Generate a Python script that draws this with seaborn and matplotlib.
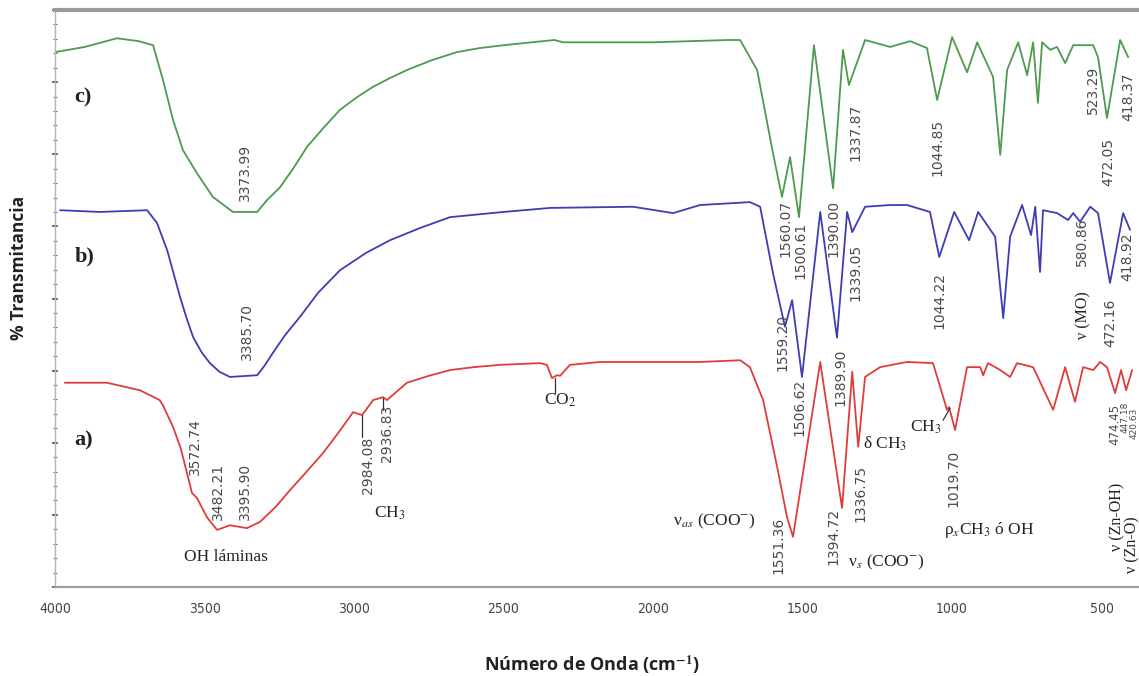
import numpy as np
import pandas as pd
import matplotlib
matplotlib.use("Agg")
import matplotlib.pyplot as plt
from matplotlib.ticker import MultipleLocator, NullFormatter
import seaborn as sns

# espectro c) (verde)
wn_c = [4000, 3900, 3793, 3720, 3672, 3639, 3605, 3572, 3525, 3472, 3405, 3324, 3290, 3247,
        3200, 3157, 3100, 3047, 2990, 2936, 2880, 2823, 2740, 2656, 2580, 2500, 2330, 2300,
        2000, 1750, 1709, 1652, 1599, 1569, 1542, 1512, 1462,
        1398, 1365, 1345, 1291, 1207, 1140, 1084, 1050, 1000, 950, 916, 863, 839, 816, 779,
        749, 729, 713, 699, 672, 649, 622, 595, 528, 512, 482, 438, 411]
t_c = [92.7, 93.6, 95.1, 94.6, 93.9, 87.9, 80.9, 75.7, 71.7, 67.6, 65.0, 65.0, 67.1, 69.3,
       72.8, 76.3, 79.7, 82.7, 84.9, 86.7, 88.2, 89.6, 91.3, 92.7, 93.4, 93.9, 94.8, 94.4,
       94.4, 94.8, 94.8, 89.6, 75.2, 67.6, 74.5, 64.1, 93.9,
       69.1, 93.1, 87.0, 94.8, 93.6, 94.6, 93.4, 84.4, 95.3, 89.2, 94.4, 88.4, 74.9, 89.6, 94.4,
       88.7, 94.4, 83.9, 94.4, 93.1, 93.6, 90.8, 93.9, 93.9, 91.8, 81.3, 94.8, 91.8]

# espectro b) (azul)
wn_b = [3983, 3850, 3692, 3659, 3625, 3600, 3582, 3560, 3538, 3510, 3482, 3450, 3415, 3324,
        3300, 3271, 3230, 3181, 3120, 3047, 2960, 2880, 2780, 2679, 2500,
        2344, 2067, 1933, 1843, 1676, 1642, 1599, 1559, 1535, 1502, 1441, 1385, 1351, 1334,
        1291, 1207, 1151, 1074, 1043, 993, 943, 913, 856, 829, 806, 766, 736, 722, 706, 696,
        649, 612, 595, 572, 538, 512, 472, 428, 405]
t_b = [65.3, 65.0, 65.3, 63.1, 58.4, 53.7, 50.3, 46.6, 43.3, 40.7, 38.8, 37.3, 36.4, 36.7,
       38.3, 40.6, 43.7, 46.8, 51.0, 54.9, 57.9, 60.1, 62.2, 64.1, 65.0,
       65.7, 65.9, 64.8, 66.2, 66.7, 65.9, 54.4, 45.1, 49.7, 36.4, 65.0, 43.2, 65.0, 61.5,
       65.9, 66.2, 66.2, 65.0, 57.2, 65.0, 60.1, 65.0, 60.7, 46.6, 60.7, 66.2, 61.0, 65.9, 54.6, 65.3,
       64.8, 63.6, 64.8, 63.3, 65.9, 64.8, 52.7, 64.8, 61.9]

# espectro a) (rojo)
wn_a = [3967, 3826, 3716, 3650, 3639, 3605, 3580, 3572, 3542, 3525, 3492, 3458, 3415, 3358,
        3314, 3260, 3214, 3160, 3104, 3050, 3003, 2973, 2936, 2903, 2890, 2823, 2750, 2679,
        2600, 2512, 2378, 2355, 2338, 2321, 2311,
        2278, 2177, 1843, 1709, 1676, 1632, 1585, 1552, 1532, 1441, 1368, 1334, 1314, 1291,
        1241, 1151, 1064, 1040, 1017, 1010, 990, 950, 906, 896, 880, 839, 806, 783, 729, 662,
        622, 589, 562, 528, 505, 482, 455, 435, 418, 398]
t_a = [35.4, 35.4, 34.1, 32.4, 31.5, 27.7, 24.1, 22.5, 16.3, 15.4, 12.1, 9.9, 10.7, 10.2,
       11.3, 14.0, 16.8, 19.9, 23.2, 26.9, 30.3, 29.8, 32.4, 32.9, 32.4, 35.4, 36.6, 37.6,
       38.1, 38.5, 38.8, 38.5, 36.2, 36.7, 36.6,
       38.5, 39.0, 39.0, 39.3, 38.1, 32.4, 20.8, 12.1, 8.7, 39.0, 13.7, 37.3, 24.3, 36.4,
       38.1, 39.0, 38.8, 34.7, 30.7, 31.2, 27.2, 38.1, 38.1, 36.7, 38.8, 37.6, 36.4, 38.8, 38.1, 30.7,
       38.1, 32.1, 38.1, 37.6, 39.0, 38.1, 33.6, 37.6, 34.1, 37.6]

# etiquetas numericas de picos (texto, x, y, tamano)
peak_txt = ["3373.99", "1560.07", "1500.61", "1390.00", "1337.87", "1044.85", "523.29", "472.05", "418.37",
            "3385.70", "1559.20", "1506.62", "1389.90", "1339.05", "1044.22", "580.86", "472.16", "418.92",
            "3572.74", "3482.21", "3395.90", "2984.08", "2936.83", "1551.36", "1394.72", "1336.75",
            "1019.70", "474.45", "447.18", "420.63"]
peak_x = [3365, 1559, 1508, 1398, 1324, 1050, 528, 478, 411,
          3358, 1569, 1512, 1375, 1324, 1043, 565, 472, 415,
          3532, 3455, 3365, 2953, 2890, 1582, 1398, 1308,
          997, 455, 420, 390]
peak_y = [71.9, 62.2, 58.4, 62.2, 78.7, 76.1, 86.1, 73.7, 84.9,
          44.2, 42.3, 31.2, 36.4, 54.6, 49.7, 59.8, 45.8, 57.2,
          24.3, 16.6, 16.6, 21.1, 26.7, 7.3, 8.7, 16.3,
          18.9, 28.1, 29.4, 28.4]
peak_fs = [10] * 27 + [8.5, 6.5, 6.5]

# asignaciones (texto serif)
band_txt = ["OH láminas", r"CH$_3$", r"CO$_2$", r"ν$_{as}$ (COO$^{-}$)", r"ν$_s$ (COO$^{-}$)",
            r"δ CH$_3$", r"CH$_3$", r"ρ$_x$CH$_3$ ó OH"]
band_x = [3428, 2880, 2311, 1796, 1221, 1224, 1087, 876]
band_y = [5.2, 12.8, 32.4, 11.3, 4.2, 24.8, 27.6, 9.9]

vert_txt = ["ν (MO)", "ν (Zn-OH)", "ν (Zn-O)"]
vert_x = [562, 447, 398]
vert_y = [47.1, 12.1, 7.4]

sample_txt = ["c)", "b)", "a)"]
sample_x = [3935, 3935, 3935]
sample_y = [84.9, 57.2, 25.4]

# lineas guia de algunas etiquetas
lead_x0 = [2973, 2903, 2328, 1030]
lead_x1 = [2973, 2903, 2328, 1007]
lead_y0 = [29.8, 32.8, 36.2, 28.9]
lead_y1 = [26.0, 30.7, 33.6, 31.0]

sns.set_style("white")
plt.rcParams["mathtext.fontset"] = "stix"

fig = plt.figure(figsize=(11.39, 6.76), dpi=100)
ax = fig.add_axes([55 / 1139, 89 / 676, 1084 / 1139, 577 / 676])

series = [(wn_c, t_c, "#4e9a4e"), (wn_b, t_b, "#3d3db4"), (wn_a, t_a, "#e03c3c")]
for wn, t, col in series:
    df = pd.DataFrame({"wn": wn, "T": t})
    sns.lineplot(data=df, x="wn", y="T", ax=ax, color=col, lw=1.3, sort=False, estimator=None)

for x0, x1, y0, y1 in zip(lead_x0, lead_x1, lead_y0, lead_y1):
    ax.plot([x0, x1], [y0, y1], color="#333333", lw=0.9)

for s, x, y, fs in zip(peak_txt, peak_x, peak_y, peak_fs):
    ax.text(x, y, s, rotation=90, ha="center", va="center", fontsize=fs,
            color="#4a4a4a", family="DejaVu Sans", clip_on=True)

for s, x, y in zip(band_txt, band_x, band_y):
    ax.text(x, y, s, ha="center", va="center", fontsize=12.5, color="#222222",
            family="Liberation Serif")
for s, x, y in zip(vert_txt, vert_x, vert_y):
    ax.text(x, y, s, rotation=90, ha="center", va="center", fontsize=11.5,
            color="#222222", family="Liberation Serif", clip_on=True)
for s, x, y in zip(sample_txt, sample_x, sample_y):
    ax.text(x, y, s, ha="left", va="center", fontsize=16, fontweight="bold",
            color="#222222", family="Liberation Serif")

ax.set_xlim(4000, 375)
ax.set_ylim(0, 100)
ax.xaxis.set_major_locator(MultipleLocator(500))
ax.xaxis.set_minor_locator(MultipleLocator(100))
ax.yaxis.set_major_locator(MultipleLocator(12.5))
ax.yaxis.set_minor_locator(MultipleLocator(2.5))
ax.yaxis.set_major_formatter(NullFormatter())
ax.tick_params(axis="x", which="major", direction="inout", length=9, width=1.2,
               colors="#555555", labelsize=10, pad=6)
ax.tick_params(axis="x", which="minor", direction="inout", length=4, width=1, colors="#555555")
ax.tick_params(axis="y", which="major", direction="inout", length=5, width=1.2, colors="#555555", left=True)
ax.tick_params(axis="y", which="minor", direction="inout", length=3, width=0.8, colors="#777777", left=True)
for lab in ax.get_xticklabels():
    lab.set_family(["DejaVu Sans"])
    lab.set_stretch("condensed")
    lab.set_color("#444444")

ax.spines["right"].set_visible(False)
ax.spines["top"].set_color("#9a9a9a")
ax.spines["top"].set_linewidth(3)
ax.spines["bottom"].set_color("#9f9f9f")
ax.spines["bottom"].set_linewidth(1.6)
ax.spines["left"].set_color("#b5b5b5")
ax.spines["left"].set_linewidth(1)

ax.set_xlabel(r"Número de Onda (cm$^{\mathbf{-1}}$)", fontsize=13, fontweight="bold",
              family="Open Sans", color="#222222")
ax.set_ylabel("% Transmitancia", fontsize=12.5, fontweight="bold", family="Open Sans",
              color="#222222")
ax.xaxis.set_label_coords(0.495, -0.115)
ax.yaxis.set_label_coords(-0.025, 0.553)

fig.savefig("out.png", dpi=100)
